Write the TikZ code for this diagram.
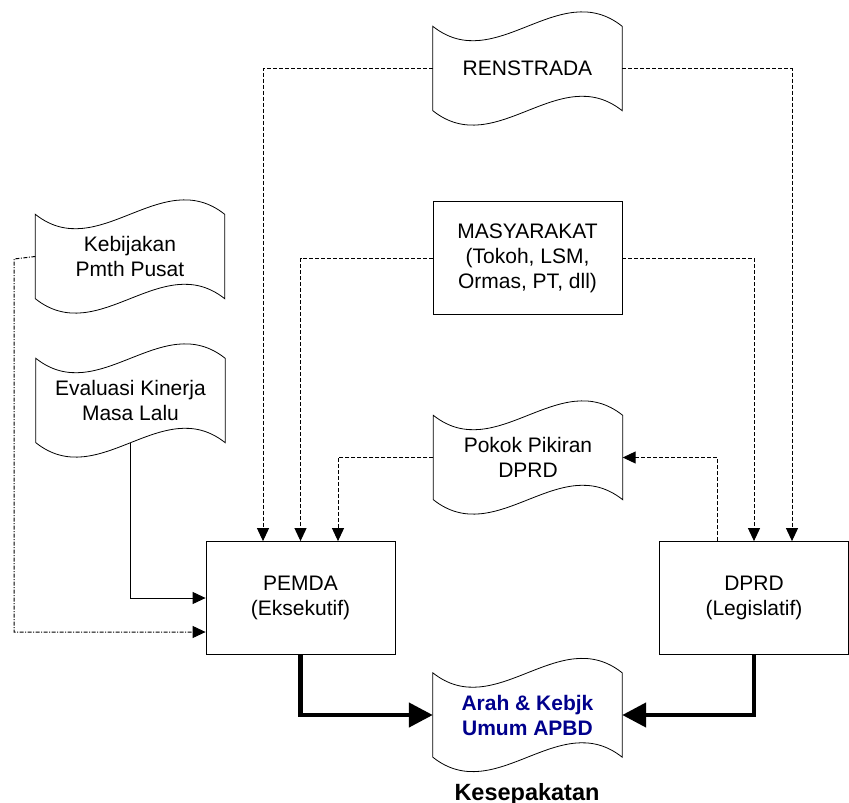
\documentclass[tikz,border=0pt]{standalone}
\usepackage{fontspec}
\setmainfont{Liberation Sans}
\usetikzlibrary{arrows.meta}
\definecolor{arahblue}{RGB}{0,0,140}

\begin{document}
\begin{tikzpicture}[x=1pt, y=-1pt,
    font=\fontsize{21}{25}\selectfont,
    box/.style={draw, line width=0.8pt, minimum width=189pt, minimum height=113pt, align=center, inner sep=0pt},
    doc/.style={minimum width=189pt, minimum height=84pt, align=center, inner sep=0pt,
        append after command={\pgfextra{\draw[line width=0.8pt]
            (\tikzlastnode.north west) .. controls +(63,50) and +(-63,-50) .. (\tikzlastnode.north east)
            -- (\tikzlastnode.south east) .. controls +(-63,-50) and +(63,50) .. (\tikzlastnode.south west)
            -- cycle;}}},
    dashline/.style={line width=1pt, dash pattern=on 4pt off 2pt, -{Triangle[length=13pt, width=12pt]}},
    dotdash/.style={line width=1pt, dash pattern=on 4pt off 1.5pt on 1pt off 1.5pt, -{Triangle[length=13pt, width=12pt]}},
    solidline/.style={line width=1pt, -{Triangle[length=13pt, width=12pt]}},
    thickline/.style={line width=4.5pt, -{Triangle[length=24pt, width=24pt]}}]
    \useasboundingbox (0, 0) rectangle (849, 803);

    % sumber masukan
    \node[doc] at (527.5, 68.5) (renstrada) {RENSTRADA};
    \node[doc] at (130, 256.5) (kebijakan) {Kebijakan\\Pmth Pusat};
    \node[doc] at (130.5, 400.5) (evaluasi) {Evaluasi Kinerja\\Masa Lalu};
    \node[box] at (527.5, 258) (masyarakat) {MASYARAKAT\\(Tokoh, LSM,\\Ormas, PT, dll)};
    \node[doc] at (528, 457.5) (pokok) {Pokok Pikiran\\DPRD};

    % pelaku
    \node[box] at (300.5, 598) (pemda) {PEMDA\\(Eksekutif)};
    \node[box] at (754, 598) (dprd) {DPRD\\(Legislatif)};

    % hasil
    \node[doc, font=\bfseries\fontsize{21}{25}\selectfont, text=arahblue] at (527.5, 715) (arah) {Arah \& Kebjk\\Umum APBD};
    \node[font=\bfseries\fontsize{23.5}{28}\selectfont, anchor=base] at (527, 800) (kesepakatan) {Kesepakatan};

    \coordinate (kebijakanturn) at (14, 259);

    \draw[dashline] (renstrada.west) -| ([xshift=-37.5pt]pemda.north);
    \draw[dashline] (renstrada.east) -| ([xshift=38pt]dprd.north);
    \draw[dashline] (masyarakat.west) -| (pemda.north);
    \draw[dashline] (masyarakat.east) -| (dprd.north);
    \draw[dashline] (pokok.west) -| ([xshift=37.5pt]pemda.north);
    \draw[dashline] ([xshift=-37pt]dprd.north) |- (pokok.east);
    \draw[dotdash] (kebijakan.west) -- (kebijakanturn) |- ([yshift=-34pt]pemda.west);
    \draw[solidline] (evaluasi.south) |- (pemda.west);
    \draw[thickline] (pemda.south) |- (arah.west);
    \draw[thickline] (dprd.south) |- (arah.east);
\end{tikzpicture}
\end{document}
